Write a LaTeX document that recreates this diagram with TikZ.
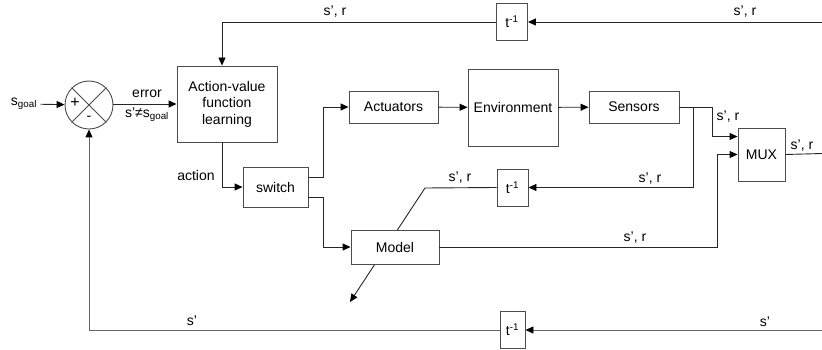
\documentclass[tikz,border=0pt]{standalone}
\usepackage{fontspec}
\setmainfont{Liberation Sans}
\usetikzlibrary{arrows.meta, positioning}

\begin{document}
\begin{tikzpicture}[
    x=1pt, y=-1pt,
    font=\fontsize{14}{16.5}\selectfont,
    block/.style={rectangle, draw=black!70, fill=white, line width=0.9pt, inner sep=0pt, align=center},
    delay/.style={block, minimum width=31pt, minimum height=37pt},
    sumnode/.style={circle, draw=black!70, line width=0.9pt, minimum size=48pt, inner sep=0pt},
    wire/.style={line width=0.9pt, draw=black!85},
    edge/.style={wire, -{Triangle[length=8pt, width=7pt, black]}}
]
    \useasboundingbox (0,0) rectangle (822,350);

    % Comparator and learner
    \node (goal) at (24,104) {s\textsubscript{goal}};
    \node[sumnode] (sum) at (89,105) {};
    \node[block, minimum width=100pt, minimum height=76pt] (av) at (227,104) {Action-value\\function\\learning};
    \node[block, minimum width=65pt, minimum height=40pt] (switch) at (275.5,187) {switch};

    % Plant chain
    \node[block, minimum width=89pt, minimum height=32pt] (act) at (393.5,107) {Actuators};
    \node[block, minimum width=90pt, minimum height=77pt] (env) at (513,107.5) {Environment};
    \node[block, minimum width=90pt, minimum height=32pt] (sens) at (634,107) {Sensors};
    \node[block, minimum width=47pt, minimum height=53pt] (mux) at (761.5,154.5) {MUX};

    % Unit delays
    \node[delay] (dtop) at (512,22) {t\textsuperscript{-1}};
    \node[delay] (dmid) at (512.5,187.5) {t\textsuperscript{-1}};
    \node[delay, minimum width=25pt] (dbot) at (512.5,330) {t\textsuperscript{-1}};

    % Branch points and free ends
    \coordinate (split) at (693,107);
    \coordinate (join) at (712,107);
    \coordinate (mdl) at (717,247);
    \coordinate (bend) at (425,188);
    \coordinate (tip) at (350,302);
    \coordinate (intop) at (822,22);
    \coordinate (inbot) at (822,330);
    \coordinate (out) at (822,153.5);

    % Model adjustment arrow, passes under the model block
    \draw[edge] (dmid.west) -- (bend) -- (tip);
    \node[block, minimum width=88pt, minimum height=34pt] (model) at (395,247) {Model};

    % Summing junction
    \draw[line width=0.9pt, black!70] (sum.north west) -- (sum.south east);
    \draw[line width=0.9pt, black!70] (sum.north east) -- (sum.south west);
    \node (plus) at ([xshift=-14pt, yshift=2pt]sum.center) {\fontsize{16}{16}\selectfont +};
    \node (minus) at ([yshift=-13pt]sum.center) {-};

    % Forward path
    \draw[edge] (goal) -- (sum);
    \draw[edge] (sum.east |- av.west) -- (av.west);
    \node[above] (lerr) at (147,101) {error};
    \node[below] (lneq) at (147,104) {s'≠s\textsubscript{goal}};
    \draw[edge] ([xshift=-5pt]av.south) |- (switch.west);
    \node (lact) at (196,175) {action};
    \draw[edge] ([yshift=10pt]switch.east) -- ++(15,0) |- (act.west);
    \draw[edge] ([yshift=-10pt]switch.east) -- ++(15,0) |- (model.west);
    \draw[edge] (act) -- (env);
    \draw[edge] (env) -- (sens);

    % Into the multiplexer
    \draw[wire] (sens.east) -- (join);
    \draw[edge] (join) |- ([yshift=18pt]mux.west);
    \node (lsens) at (728,117) {s', r};
    \draw[edge] (model.east) -- (mdl) |- (mux.west);
    \node (lmodel) at (635,238) {s', r};
    \draw[wire] (mux.east) -- (out);
    \node (lout) at (802,146) {s', r};

    % Feedback loops
    \draw[edge] (split) |- (dmid.east);
    \node (lmid1) at (650,179) {s', r};
    \node (lmid2) at (460,178) {s', r};
    \draw[edge] (intop) -- (dtop);
    \draw[edge] (dtop) -| ([xshift=-5pt]av.north);
    \node (ltop1) at (335,12) {s', r};
    \node (ltop2) at (745,12) {s', r};
    \draw[edge, draw=black!60] (inbot) -- (dbot);
    \draw[edge, draw=black!60] (dbot) -| (sum.south);
    \node (lbot1) at (192,321) {s'};
    \node (lbot2) at (765,322) {s'};
\end{tikzpicture}
\end{document}
